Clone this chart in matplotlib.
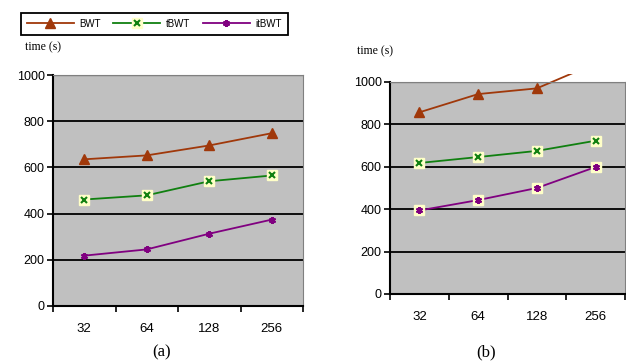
import matplotlib.pyplot as plt
from matplotlib.lines import Line2D
from matplotlib.legend_handler import HandlerTuple
from matplotlib.patches import Rectangle

plt.rcParams['font.family'] = ['Liberation Sans', 'DejaVu Sans']

categories = ['32', '64', '128', '256']

# panel (a)
bwt_a = [635, 652, 695, 748]
tbwt_a = [461, 479, 540, 565]
itbwt_a = [218, 245, 313, 374]

# panel (b)
bwt_b = [857, 943, 970, 1088]
tbwt_b = [618, 646, 675, 723]
itbwt_b = [394, 443, 500, 599]

yticks = [0, 200, 400, 600, 800, 1000]

BROWN = '#A0380A'
GREEN = '#108010'
PURPLE = '#800080'
PALE = '#FFFFC8'
STAR = (6, 2, 0)


def draw_panel(ax, bwt, tbwt, itbwt, purple_bg):
    x = range(len(categories))
    ax.set_facecolor('#C0C0C0')
    lines = []
    lines += ax.plot(x, bwt, color=BROWN, lw=1.3, marker='^', ms=7, mec=BROWN)
    lines += ax.plot(x, tbwt, color=GREEN, lw=1.3)
    lines += ax.plot(x, tbwt, ls='none', marker='s', ms=7, mfc=PALE, mec=PALE)
    lines += ax.plot(x, tbwt, ls='none', marker='x', ms=4.5, mew=1.5, color=GREEN)
    lines += ax.plot(x, itbwt, color=PURPLE, lw=1.3)
    if purple_bg:
        lines += ax.plot(x, itbwt, ls='none', marker='s', ms=7, mfc=PALE, mec=PALE)
    lines += ax.plot(x, itbwt, ls='none', marker=STAR, ms=5, mew=1.5, color=PURPLE)

    # let lines poke slightly above the plot area, as in the original
    clip = Rectangle((0, 0), 1, 1.04, transform=ax.transAxes, facecolor='none', edgecolor='none')
    ax.add_patch(clip)
    for ln in lines:
        ln.set_clip_on(True)
        ln.set_clip_path(clip)

    ax.set_ylim(0, 1000)
    ax.set_xlim(-0.5, len(categories) - 0.5)
    ax.set_yticks(yticks)
    ax.set_yticklabels([str(v) for v in yticks], fontsize=9)
    ax.set_xticks([i + 0.5 for i in range(-1, len(categories))], minor=False)
    ax.set_xticklabels([])
    ax.set_xticks(list(x), minor=True)
    ax.set_xticklabels(categories, minor=True, fontsize=9.5)
    ax.tick_params(axis='x', which='minor', length=0, pad=12)
    ax.tick_params(axis='x', which='major', direction='out', length=4, width=1.2)
    ax.tick_params(axis='y', direction='out', length=4, width=1.2, pad=2)

    for v in yticks[1:-1]:
        ax.axhline(v, color='black', lw=1.3, zorder=1)
    ax.axhline(1000, color='#808080', lw=1, zorder=1)

    ax.spines['left'].set_linewidth(1.5)
    ax.spines['bottom'].set_linewidth(1.5)
    ax.spines['top'].set_color('#808080')
    ax.spines['right'].set_color('#808080')


fig = plt.figure(figsize=(6.26, 3.64), dpi=100)
ax1 = fig.add_axes([53 / 626, 1 - 306 / 364, 250 / 626, 231 / 364])
ax2 = fig.add_axes([390 / 626, 1 - 294 / 364, 235 / 626, 212 / 364])

draw_panel(ax1, bwt_a, tbwt_a, itbwt_a, purple_bg=False)
draw_panel(ax2, bwt_b, tbwt_b, itbwt_b, purple_bg=True)

serif = ['Liberation Serif', 'DejaVu Serif']
fig.text(25 / 626, 1 - 47 / 364, 'time (s)', family=serif, fontsize=8.5, va='center')
fig.text(357 / 626, 1 - 51 / 364, 'time (s)', family=serif, fontsize=8.5, va='center')
fig.text(162 / 626, 1 - 352 / 364, '(a)', family=serif, fontsize=12, ha='center', va='center')
fig.text(486 / 626, 1 - 352 / 364, '(b)', family=serif, fontsize=12, ha='center', va='center')

h_bwt = Line2D([], [], color=BROWN, lw=1.3, marker='^', ms=7)
h_t_bg = Line2D([], [], color=GREEN, lw=1.3, marker='s', ms=7, mfc=PALE, mec=PALE)
h_t_x = Line2D([], [], ls='none', marker='x', ms=4.5, mew=1.5, color=GREEN)
h_it = Line2D([], [], color=PURPLE, lw=1.3, marker=STAR, ms=5, mew=1.5)
leg = fig.legend([h_bwt, (h_t_bg, h_t_x), h_it], ['BWT', 'tBWT', 'itBWT'],
                 handler_map={tuple: HandlerTuple(ndivide=1, pad=0)},
                 loc='upper left', bbox_to_anchor=(21 / 626, 1 - 13 / 364),
                 ncol=3, fontsize=7, handlelength=4.8, handletextpad=0.6,
                 columnspacing=1.3, borderpad=0.6, borderaxespad=0,
                 fancybox=False, framealpha=1)
leg.get_frame().set_edgecolor('black')
leg.get_frame().set_linewidth(1.3)

fig.savefig('out.png', dpi=100)
